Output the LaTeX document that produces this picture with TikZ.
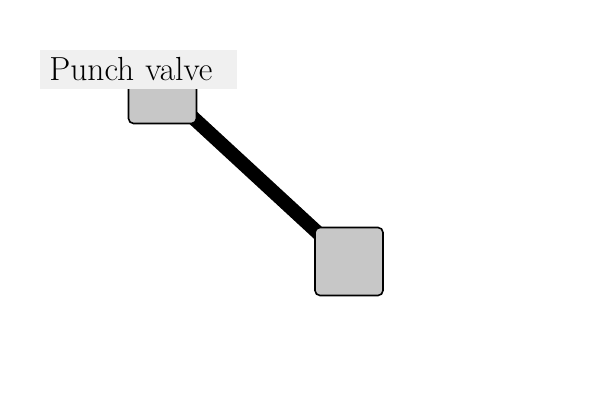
\documentclass[tikz,border=0pt]{standalone}
\usepackage{tikz}
\usetikzlibrary{positioning, backgrounds}
\definecolor{valvegray}{HTML}{C7C7C7}
\definecolor{tagfill}{HTML}{F0F0F0}

\begin{document}
\begin{tikzpicture}[x=0.5pt, y=-0.5pt, font=\fontsize{16.7}{20}\selectfont,
  valve/.style={draw, line width=0.8pt, rounded corners=2.5pt, fill=valvegray, minimum size=34pt, inner sep=0pt},
  tag/.style={fill=tagfill, anchor=west, align=left, text width=89.5pt, inner xsep=4.5pt, minimum height=19.5pt}]
\useasboundingbox (0,0) rectangle (600,400);
\node[valve] (punch) at (162.5,89.5) {};
\node[valve] (outlet) at (349,261.5) {};
\begin{scope}[on background layer]
\draw[line width=7pt] (punch.center) -- (outlet.center);
\end{scope}
\node[tag] (punchlabel) at (40,69.5) {Punch valve};
\end{tikzpicture}
\end{document}
